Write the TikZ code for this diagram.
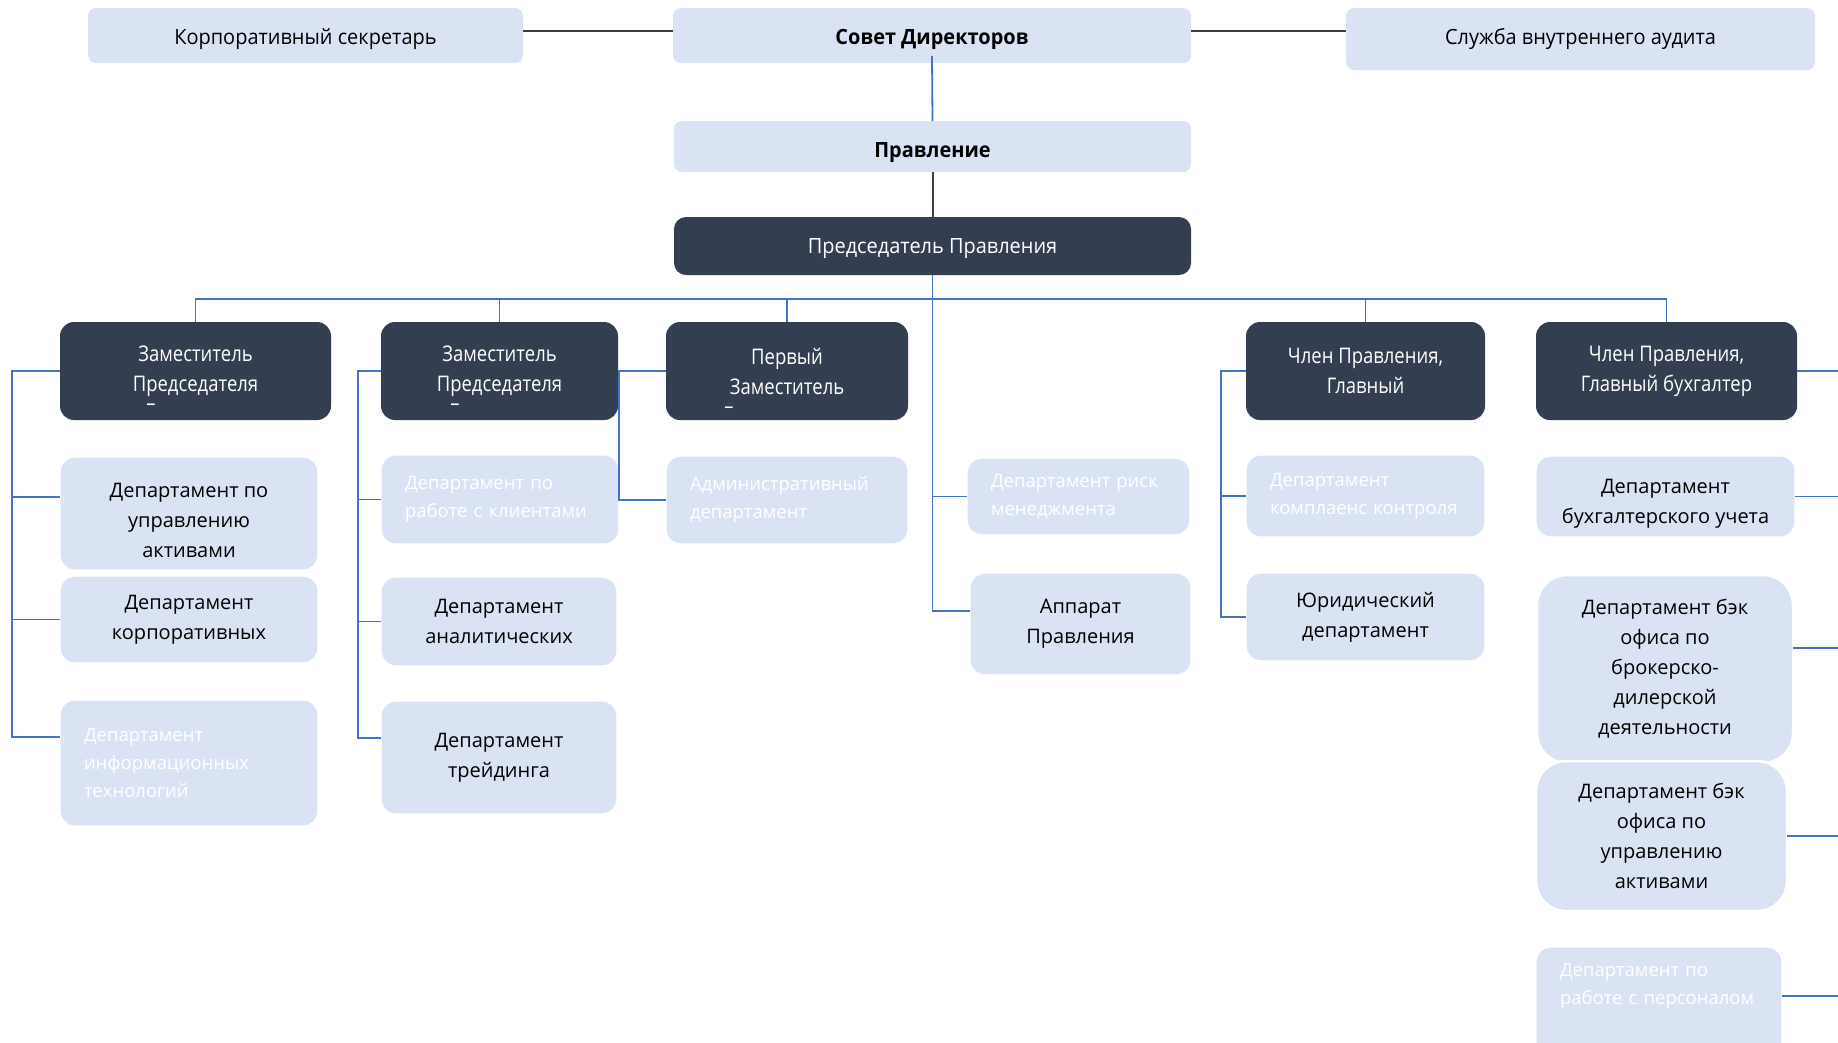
\documentclass[tikz,border=0pt]{standalone}
\usepackage{fontspec}
\setmainfont{Open Sans}
\newfontfamily\condfont[FakeStretch=0.86]{Open Sans}
\newfontfamily\topfont[FakeStretch=0.95]{Open Sans}
\definecolor{lightbg}{HTML}{DAE3F3}
\definecolor{darkbg}{HTML}{333F50}
\definecolor{blueline}{HTML}{4472C4}
\definecolor{grayline}{HTML}{404040}
\tikzset{
  base/.style={inner sep=0pt, outer sep=0pt},
  tbox/.style={base, fill=lightbg, rounded corners=8pt, text=black, text height=17pt, text depth=0pt, font=\topfont\fontsize{21}{24}\selectfont},
  dbox/.style={base, fill=darkbg, rounded corners=14pt, text=white, align=center, font=\condfont\fontsize{21.5}{30}\selectfont},
  lbox/.style={base, fill=lightbg, draw=white, line width=1.2pt, rounded corners=15pt, text=black, align=center, font=\fontsize{20}{30}\selectfont},
  fbox/.style={lbox, text=white, align=left, font=\fontsize{18.5}{28}\selectfont},
  bigbox/.style={lbox, draw=white, line width=2.5pt, rounded corners=30pt},
  bl/.style={draw=blueline, line width=1.8pt},
  gl/.style={draw=grayline, line width=2pt},
  dashlab/.style={text=white, font=\condfont\fontsize{21.5}{30}\selectfont, inner sep=0pt}
}
\begin{document}
\begin{tikzpicture}[x=1pt,y=-1pt]
\useasboundingbox (0,0) rectangle (1838,1042);
\clip (0,0) rectangle (1838,1042);
\fill[white] (0,0) rectangle (1838,1042);

% top level
\node[tbox, minimum width=435pt, minimum height=55pt] (sec) at (305.5,35.5) {Корпоративный секретарь};
\node[tbox, minimum width=518pt, minimum height=55pt] (sovet) at (932,35.5) {\bfseries Совет Директоров};
\node[tbox, minimum width=469pt, minimum height=62pt, text height=11pt] (audit) at (1580.5,39) {Служба внутреннего аудита};
\node[tbox, minimum width=517pt, minimum height=51pt, text height=22pt] (pravl) at (932.5,146.5) {\bfseries Правление};
\node[tbox, fill=darkbg, rounded corners=12pt, text=white, text height=15pt, minimum width=517pt, minimum height=58pt] (pred) at (932.5,246) {Председатель Правления};

% second level
\node[dbox, minimum width=271pt, minimum height=98pt, label={[dashlab, xshift=-44.5pt, yshift=-36pt]center:–}] (zp1) at (195.5,371) {Заместитель\\Председателя};
\node[dbox, minimum width=237pt, minimum height=98pt, label={[dashlab, xshift=-44.5pt, yshift=-36pt]center:–}] (zp2) at (499.5,371) {Заместитель\\Председателя};
\node[dbox, minimum width=242pt, minimum height=98pt, label={[dashlab, xshift=-58pt, yshift=-39pt]center:–}] (perv) at (787,371) {Первый\\Заместитель};
\node[dbox, minimum width=239pt, minimum height=98pt] (chg) at (1365.5,371) {Член Правления,\\Главный};
\node[dbox, minimum width=261pt, minimum height=98pt] (chb) at (1666.5,371) {Член Правления,\\Главный бухгалтер};

% departments
\node[lbox, minimum width=258pt, minimum height=113pt] (upr) at (189,513.5) {\rule{0pt}{28pt}Департамент по\\управлению\\активами};
\node[lbox, minimum width=258pt, minimum height=87pt] (korp) at (189,619.5) {Департамент\\корпоративных};
\node[fbox, minimum width=258pt, minimum height=126pt, text width=210pt] (it) at (189,763) {Департамент\\информационных\\технологий};

\node[fbox, minimum width=238pt, minimum height=89pt, text width=190pt] (kli) at (500,499.5) {Департамент по\\работе с клиентами};
\node[lbox, minimum width=236pt, minimum height=89pt] (anal) at (499,621.5) {Департамент\\аналитических};
\node[lbox, minimum width=236pt, minimum height=113pt] (treid) at (499,757.5) {Департамент\\трейдинга};

\node[fbox, minimum width=242pt, minimum height=88pt, text width=194pt] (adm) at (787,500) {Административный\\департамент};

\node[fbox, minimum width=223pt, minimum height=77pt, text width=175pt] (risk) at (1078.5,496.5) {Департамент риск\\менеджмента};
\node[lbox, minimum width=221pt, minimum height=102pt] (app) at (1080.5,624) {Аппарат\\Правления};

\node[fbox, minimum width=239pt, minimum height=82pt, text width=191pt] (kompl) at (1365.5,496) {Департамент\\комплаенс контроля};
\node[lbox, minimum width=239pt, minimum height=88pt] (jur) at (1365.5,617) {Юридический\\департамент};

\node[lbox, minimum width=259pt, minimum height=81pt] (buh) at (1665.5,496.5) {\rule{0pt}{28pt}Департамент\\бухгалтерского учета};
\node[bigbox, minimum width=256pt, minimum height=188pt] (brok) at (1665,669) {Департамент бэк\\офиса по\\брокерско-\\дилерской\\деятельности};
\node[bigbox, minimum width=251pt, minimum height=150pt] (bekakt) at (1661.5,836) {Департамент бэк\\офиса по\\управлению\\активами};
\node[fbox, anchor=north, minimum width=246pt, text width=198pt, inner ysep=16pt, text depth=100pt] (pers) at (1659,947) {Департамент по\\работе с персоналом};

% top connectors
\coordinate (t1) at ([yshift=4.5pt]sec.east);
\draw[gl] (t1) -- (t1 -| sovet.west);
\coordinate (t2) at ([yshift=4.5pt]sovet.east);
\draw[gl] (t2) -- (t2 -| audit.west);
\draw[bl] ([yshift=7pt]sovet.south) -- (pravl.north);
\draw[gl] (pravl.south) -- (pred.north);

% bus
\coordinate (bus) at (932.5,299);
\draw[bl] (pred.south) -- (bus);
\draw[bl] (bus) -| (zp1.north);
\draw[bl] (bus) -| (zp2.north);
\draw[bl] (bus) -| (perv.north);
\draw[bl] (bus) -| (chg.north);
\draw[bl] (bus) -| (chb.north);

% center branch
\coordinate (appb) at ([yshift=13pt]app.west);
\draw[bl] (bus) |- (appb);
\draw[bl] (bus |- risk.west) -- (risk.west);

% ZP1 bracket
\coordinate (xL1) at (12,0);
\coordinate (uU) at ([yshift=16.5pt]upr.west);
\coordinate (uI) at ([yshift=26pt]it.west);
\draw[bl] (zp1.west) -| (xL1 |- uI) -- (uI);
\draw[bl] (xL1 |- uU) -- (uU);
\draw[bl] (xL1 |- korp.west) -- (korp.west);

% ZP2 bracket
\coordinate (xL2) at (358,0);
\coordinate (uT) at ([yshift=19.5pt]treid.west);
\draw[bl] (zp2.west) -| (xL2 |- uT) -- (uT);
\draw[bl] (xL2 |- kli.west) -- (kli.west);
\draw[bl] (xL2 |- anal.west) -- (anal.west);

% Perv bracket
\coordinate (xL3) at (619,0);
\draw[bl] (perv.west) -| (xL3 |- adm.west) -- (adm.west);

% Chg bracket
\coordinate (xL4) at (1221,0);
\draw[bl] (chg.west) -| (xL4 |- jur.west) -- (jur.west);
\draw[bl] (xL4 |- kompl.west) -- (kompl.west);

% Chb right connectors
\coordinate (xR) at (1838,0);
\coordinate (uB) at ([yshift=21pt]brok.east);
\coordinate (uP) at ([yshift=-49pt]pers.north east);
\draw[bl] (chb.east) -- (chb.east -| xR);
\draw[bl] (buh.east) -- (buh.east -| xR);
\draw[bl] (uB) -- (uB -| xR);
\draw[bl] (bekakt.east) -- (bekakt.east -| xR);
\draw[bl] (uP) -- (uP -| xR);
\end{tikzpicture}
\end{document}
